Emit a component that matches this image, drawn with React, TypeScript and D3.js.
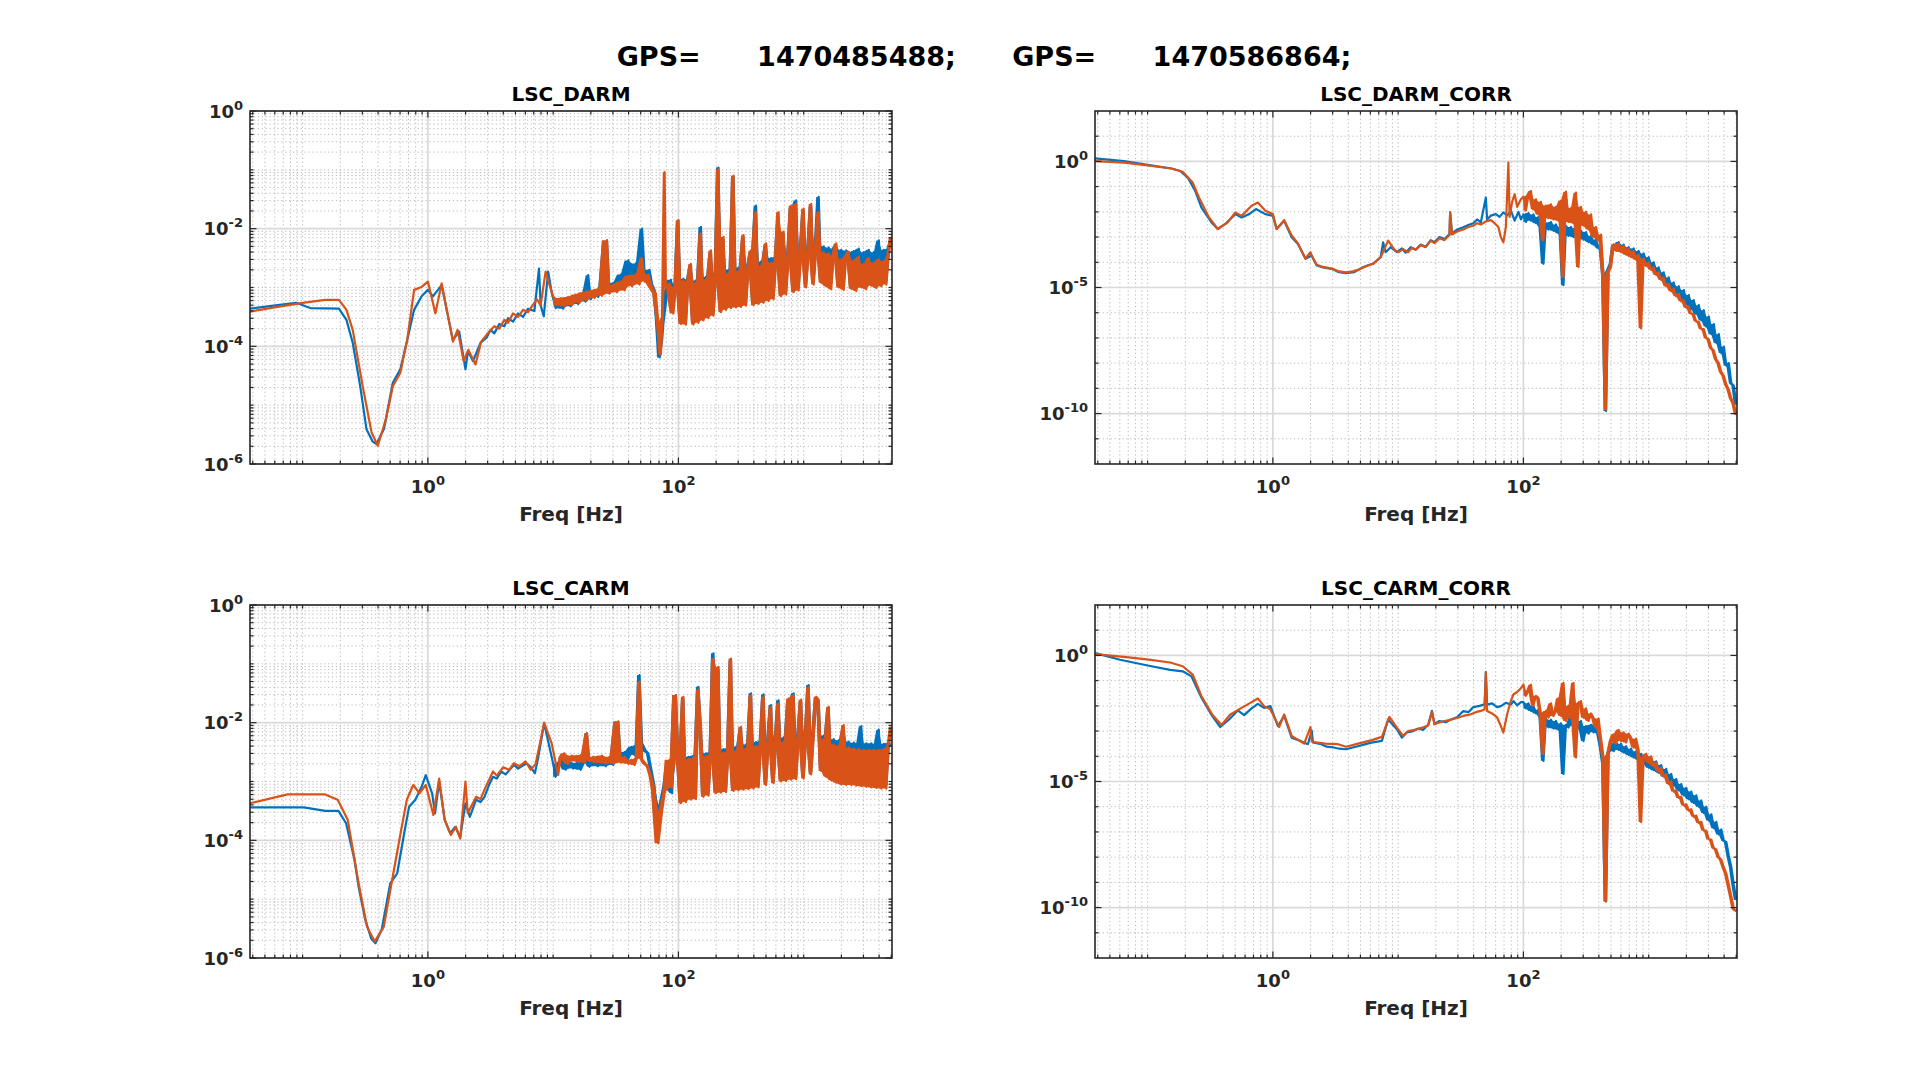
import React, { useEffect, useRef } from 'react';
import * as d3 from 'd3';

// ---------------- text ----------------
const supTitle = 'GPS=      1470485488;      GPS=      1470586864;';
const panelTitles = ['LSC_DARM', 'LSC_DARM_CORR', 'LSC_CARM', 'LSC_CARM_CORR'];
const xLabelText = 'Freq [Hz]';

// ---------------- axes (log10 exponents) ----------------
const xLogDomain = [-1.42, 3.705];
const yLogDomainPlain = [-6, 0];
const yLogDomainCorr = [-12, 2];
const xTickExps = [0, 2];
const yTickExpsPlain = [-6, -4, -2, 0];
const yTickExpsCorr = [-10, -5, 0];

// ---------------- data: [log10 f, log10 value] ----------------
type P = [number, number];

const darmBlueLow: P[] = [[-1.42,-3.36],[-1.2,-3.3],[-1.05,-3.26],[-0.94,-3.35],[-0.71,-3.36],[-0.65,-3.55],[-0.6,-3.94],[-0.54,-4.68],[-0.49,-5.41],[-0.44,-5.62],[-0.41,-5.66],[-0.35,-5.4],[-0.28,-4.62],[-0.22,-4.39],[-0.17,-3.94],[-0.11,-3.38],[-0.05,-3.15],[0,-3.04],[0.04,-3.15],[0.11,-2.96],[0.15,-3.38],[0.2,-3.89],[0.25,-3.75],[0.3,-4.39],[0.32,-4.08],[0.36,-4.25],[0.42,-3.94],[0.47,-3.85],[0.5,-3.72],[0.53,-3.78],[0.57,-3.62],[0.61,-3.66],[0.64,-3.52],[0.68,-3.58],[0.72,-3.44],[0.76,-3.5],[0.8,-3.36],[0.85,-3.4],[0.887,-2.68],[0.9,-3.3],[0.925,-3.49],[0.96,-2.73],[0.99,-3.1],[1.02,-3.35],[1.05,-3.22],[1.08,-3.36],[1.11,-3.2],[1.14,-3.32],[1.17,-3.16],[1.2,-3.28],[1.23,-3.12],[1.26,-3.24],[1.28,-2.79],[1.3,-3.2],[1.33,-3.06],[1.36,-3.16],[1.39,-3.0],[1.43,-2.2],[1.45,-3.1],[1.48,-2.92],[1.51,-3.02],[1.54,-2.78],[1.57,-2.95],[1.6,-2.54],[1.63,-2.8],[1.66,-2.59],[1.69,-2.85],[1.71,-2.0],[1.73,-2.75],[1.77,-2.7],[1.79,-2.95],[1.81,-3.04],[1.83,-3.5],[1.85,-4.19],[1.87,-3.9],[1.88,-3.61],[1.91,-3.1],[1.94,-2.87],[1.96,-3.3],[1.98,-2.95]];
const darmOrangeLow: P[] = [[-1.42,-3.41],[-1.2,-3.33],[-1.0,-3.26],[-0.82,-3.21],[-0.71,-3.21],[-0.65,-3.38],[-0.6,-3.72],[-0.52,-4.68],[-0.45,-5.46],[-0.4,-5.69],[-0.335,-5.24],[-0.28,-4.68],[-0.22,-4.45],[-0.165,-3.89],[-0.11,-3.04],[-0.05,-2.99],[0,-2.9],[0.06,-3.44],[0.11,-2.93],[0.154,-3.41],[0.2,-3.92],[0.237,-3.72],[0.286,-4.25],[0.323,-4.06],[0.38,-4.31],[0.425,-3.92],[0.47,-3.8],[0.53,-3.66],[0.57,-3.7],[0.61,-3.55],[0.64,-3.6],[0.68,-3.44],[0.72,-3.5],[0.76,-3.38],[0.8,-3.42],[0.83,-3.32],[0.87,-3.2],[0.9,-3.3],[0.94,-2.73],[0.97,-2.95],[1.0,-3.15],[1.03,-3.3],[1.06,-3.18],[1.09,-3.32],[1.12,-3.16],[1.15,-3.3],[1.18,-3.12],[1.21,-3.26],[1.24,-3.08],[1.27,-3.22],[1.3,-3.05],[1.33,-3.18],[1.36,-3.02],[1.39,-3.14],[1.43,-2.2],[1.45,-3.1],[1.48,-2.95],[1.51,-3.08],[1.54,-2.9],[1.57,-3.05],[1.6,-2.8],[1.63,-2.98],[1.66,-2.78],[1.69,-2.95],[1.71,-2.5],[1.73,-2.9],[1.76,-2.78],[1.79,-3.0],[1.82,-3.1],[1.84,-3.6],[1.86,-4.14],[1.875,-3.5],[1.89,-1.04],[1.9,-3.0],[1.93,-2.93],[1.96,-3.44],[1.98,-3.0]];

const carmBlueLow: P[] = [[-1.42,-3.44],[-0.99,-3.44],[-0.82,-3.5],[-0.714,-3.5],[-0.653,-3.71],[-0.586,-4.33],[-0.553,-4.79],[-0.5,-5.35],[-0.452,-5.67],[-0.419,-5.75],[-0.369,-5.52],[-0.3,-4.73],[-0.245,-4.56],[-0.184,-3.82],[-0.15,-3.43],[-0.1,-3.31],[-0.05,-3.09],[-0.017,-2.89],[0.034,-3.2],[0.057,-3.54],[0.09,-3.0],[0.134,-3.65],[0.178,-3.88],[0.218,-3.77],[0.258,-3.95],[0.3,-3.37],[0.335,-3.6],[0.385,-3.31],[0.42,-3.35],[0.452,-3.26],[0.49,-3.05],[0.52,-2.92],[0.55,-2.95],[0.586,-2.83],[0.62,-2.88],[0.687,-2.72],[0.72,-2.78],[0.787,-2.69],[0.82,-2.75],[0.854,-2.86],[0.88,-2.6],[0.905,-2.29],[0.928,-2.01],[0.97,-2.41],[1.0,-2.7],[1.02,-2.92],[1.05,-2.7],[1.07,-2.63],[1.1,-2.8],[1.13,-2.65],[1.16,-2.78],[1.19,-2.68],[1.22,-2.8],[1.25,-2.66],[1.27,-2.18],[1.29,-2.75],[1.32,-2.64],[1.357,-2.74],[1.39,-2.62],[1.42,-2.74],[1.45,-2.6],[1.48,-2.72],[1.52,-1.98],[1.54,-2.66],[1.57,-2.5],[1.6,-2.62],[1.625,-2.41],[1.65,-2.55],[1.67,-2.38],[1.69,-1.19],[1.71,-2.35],[1.74,-2.48],[1.76,-2.52],[1.78,-2.75],[1.81,-3.09],[1.84,-3.88],[1.87,-3.4],[1.89,-3.09],[1.93,-2.75],[1.95,-3.2],[1.98,-1.53]];
const carmOrangeLow: P[] = [[-1.42,-3.37],[-1.12,-3.22],[-0.82,-3.22],[-0.72,-3.31],[-0.64,-3.65],[-0.553,-4.73],[-0.486,-5.47],[-0.425,-5.72],[-0.352,-5.47],[-0.285,-4.67],[-0.218,-3.88],[-0.168,-3.31],[-0.117,-3.06],[-0.067,-3.2],[-0.017,-3.06],[0.044,-3.57],[0.09,-2.95],[0.134,-3.65],[0.184,-3.91],[0.224,-3.77],[0.258,-3.97],[0.3,-3.0],[0.318,-3.54],[0.385,-3.26],[0.42,-3.3],[0.46,-3.1],[0.52,-2.83],[0.55,-2.9],[0.6,-2.76],[0.65,-2.8],[0.687,-2.69],[0.73,-2.74],[0.78,-2.66],[0.82,-2.8],[0.86,-2.7],[0.9,-2.3],[0.928,-2.0],[0.988,-2.35],[1.04,-2.89],[1.06,-2.6],[1.09,-2.52],[1.12,-2.7],[1.15,-2.56],[1.19,-2.66],[1.22,-2.55],[1.25,-2.68],[1.27,-2.18],[1.29,-2.65],[1.32,-2.58],[1.357,-2.68],[1.39,-2.56],[1.42,-2.7],[1.45,-2.58],[1.48,-2.7],[1.52,-1.98],[1.54,-2.68],[1.57,-2.58],[1.6,-2.7],[1.625,-2.63],[1.65,-2.72],[1.67,-2.6],[1.69,-1.3],[1.71,-2.62],[1.74,-2.7],[1.76,-2.75],[1.78,-2.9],[1.81,-3.14],[1.84,-4.05],[1.87,-3.5],[1.89,-3.2],[1.93,-2.63],[1.95,-3.1],[1.98,-1.53]];

const darmCorrBlueLow: P[] = [[-1.42,0.12],[-1.19,0.01],[-1.0,-0.14],[-0.81,-0.28],[-0.74,-0.38],[-0.68,-0.64],[-0.62,-1.17],[-0.57,-1.83],[-0.49,-2.42],[-0.44,-2.68],[-0.38,-2.48],[-0.3,-2.09],[-0.25,-2.22],[-0.19,-2.09],[-0.135,-1.89],[-0.06,-2.09],[0,-2.16],[0.03,-2.68],[0.09,-2.35],[0.15,-3.01],[0.2,-3.27],[0.26,-3.86],[0.31,-3.73],[0.35,-4.13],[0.4,-4.2],[0.47,-4.26],[0.52,-4.38],[0.58,-4.43],[0.65,-4.39],[0.71,-4.22],[0.76,-4.12],[0.8,-4.06],[0.86,-3.8],[0.88,-3.21],[0.9,-3.6],[0.94,-3.4],[0.99,-3.6],[1.03,-3.45],[1.06,-3.62],[1.1,-3.4],[1.14,-3.5],[1.18,-3.3],[1.22,-3.38],[1.26,-3.12],[1.29,-3.2],[1.33,-3.0],[1.37,-3.08],[1.41,-2.88],[1.415,-2.02],[1.43,-2.85],[1.47,-2.7],[1.52,-2.61],[1.56,-2.52],[1.6,-2.45],[1.63,-2.3],[1.66,-2.42],[1.7,-1.43],[1.71,-2.3],[1.74,-2.15],[1.78,-2.09],[1.81,-2.2],[1.84,-2.02],[1.87,-2.15],[1.9,-1.95],[1.93,-2.35],[1.96,-2.0],[1.98,-2.3]];
const darmCorrOrangeLow: P[] = [[-1.42,0.01],[-1.19,-0.05],[-1.0,-0.16],[-0.81,-0.28],[-0.72,-0.41],[-0.64,-0.84],[-0.59,-1.43],[-0.51,-2.22],[-0.44,-2.68],[-0.36,-2.42],[-0.3,-2.02],[-0.25,-2.16],[-0.17,-1.76],[-0.12,-1.63],[-0.06,-1.96],[0,-2.09],[0.03,-2.68],[0.09,-2.33],[0.15,-2.94],[0.2,-3.25],[0.26,-3.85],[0.3,-3.6],[0.31,-3.75],[0.35,-4.1],[0.39,-4.17],[0.47,-4.25],[0.52,-4.35],[0.58,-4.4],[0.64,-4.36],[0.69,-4.28],[0.75,-4.15],[0.8,-4.06],[0.86,-3.8],[0.92,-3.14],[0.97,-3.5],[1.0,-3.6],[1.04,-3.48],[1.08,-3.6],[1.11,-3.42],[1.14,-3.5],[1.18,-3.32],[1.22,-3.4],[1.26,-3.15],[1.29,-3.24],[1.33,-3.05],[1.37,-3.12],[1.41,-2.92],[1.415,-2.02],[1.43,-2.9],[1.47,-2.78],[1.52,-2.7],[1.56,-2.6],[1.6,-2.55],[1.63,-2.45],[1.66,-2.5],[1.7,-2.38],[1.74,-2.33],[1.77,-2.45],[1.8,-2.6],[1.82,-3.01],[1.84,-3.21],[1.86,-2.6],[1.88,-0.05],[1.89,-2.2],[1.91,-1.6],[1.93,-1.3],[1.95,-1.8],[1.98,-1.5]];

const carmCorrBlueLow: P[] = [[-1.42,0.09],[-1.22,-0.17],[-0.99,-0.41],[-0.82,-0.57],[-0.72,-0.63],[-0.65,-0.83],[-0.57,-1.68],[-0.485,-2.4],[-0.42,-2.84],[-0.35,-2.54],[-0.28,-2.18],[-0.23,-2.37],[-0.17,-2.1],[-0.12,-1.92],[-0.07,-2.08],[-0.02,-2.01],[0.04,-2.8],[0.09,-2.4],[0.15,-3.26],[0.22,-3.39],[0.28,-3.52],[0.31,-2.98],[0.32,-3.45],[0.385,-3.52],[0.43,-3.62],[0.485,-3.65],[0.53,-3.7],[0.585,-3.72],[0.63,-3.66],[0.686,-3.59],[0.74,-3.52],[0.786,-3.46],[0.87,-3.39],[0.92,-2.54],[0.99,-2.93],[1.03,-3.26],[1.07,-3.05],[1.12,-3.0],[1.16,-2.9],[1.2,-2.95],[1.24,-2.75],[1.27,-2.2],[1.29,-2.72],[1.33,-2.6],[1.38,-2.65],[1.42,-2.54],[1.47,-2.45],[1.52,-2.21],[1.56,-2.25],[1.6,-2.05],[1.65,-2.0],[1.69,-1.94],[1.7,-0.66],[1.71,-1.95],[1.75,-1.9],[1.79,-2.05],[1.82,-2.01],[1.86,-1.88],[1.9,-1.95],[1.92,-1.81],[1.95,-1.98],[1.98,-1.85]];
const carmCorrOrangeLow: P[] = [[-1.42,0.05],[-1.15,-0.08],[-0.99,-0.17],[-0.82,-0.28],[-0.72,-0.43],[-0.64,-0.76],[-0.57,-1.62],[-0.485,-2.34],[-0.41,-2.76],[-0.34,-2.34],[-0.25,-2.08],[-0.18,-1.88],[-0.12,-1.71],[-0.07,-2.01],[-0.02,-2.14],[0.05,-2.84],[0.09,-2.34],[0.15,-3.19],[0.25,-3.5],[0.3,-2.84],[0.31,-3.4],[0.335,-3.45],[0.42,-3.5],[0.52,-3.52],[0.585,-3.62],[0.68,-3.5],[0.79,-3.36],[0.87,-3.23],[0.93,-2.44],[0.99,-2.86],[1.04,-3.19],[1.08,-3.0],[1.15,-2.93],[1.2,-2.85],[1.24,-2.78],[1.27,-2.25],[1.29,-2.73],[1.35,-2.62],[1.42,-2.55],[1.47,-2.48],[1.52,-2.4],[1.57,-2.35],[1.62,-2.25],[1.66,-2.2],[1.69,-2.14],[1.7,-0.7],[1.71,-2.2],[1.75,-2.3],[1.79,-2.46],[1.82,-2.8],[1.84,-3.06],[1.87,-2.33],[1.9,-1.8],[1.92,-1.55],[1.95,-1.45],[1.98,-1.3]];

// high-frequency part: shared log10 frequency grid and log10 values per trace
const hfLogFreq = [2.00,2.02,2.04,2.06,2.08,2.10,2.12,2.14,2.16,2.18,2.20,2.22,2.24,2.26,2.28,2.30,2.32,2.34,2.36,2.38,2.40,2.42,2.44,2.46,2.48,2.50,2.52,2.54,2.56,2.58,2.60,2.62,2.64,2.66,2.68,2.70,2.72,2.74,2.76,2.78,2.80,2.82,2.84,2.86,2.88,2.90,2.92,2.94,2.96,2.98,3.00,3.02,3.04,3.06,3.08,3.10,3.12,3.14,3.16,3.18,3.20,3.22,3.24,3.26,3.28,3.30,3.32,3.34,3.36,3.38,3.40,3.42,3.44,3.46,3.48,3.50,3.52,3.54,3.56,3.58,3.60,3.62,3.64,3.66,3.68,3.70];

const darmOrangeHf = [
  -1.86,-3.62,-2.88,-3.63,-2.90,-2.60,-3.63,-2.92,-3.60,-2.08,
  -3.56,-2.86,-3.52,-2.37,-3.48,-2.83,-0.99,-3.42,-2.14,-3.38,
  -2.76,-3.35,-1.10,-3.34,-2.72,-3.33,-2.11,-3.31,-2.68,-2.37,
  -3.30,-1.72,-3.28,-2.63,-3.26,-2.25,-3.23,-2.58,-3.20,-2.56,
  -1.72,-3.15,-2.05,-3.12,-2.50,-1.61,-3.08,-1.58,-3.05,-2.44,
  -1.66,-3.00,-2.40,-1.58,-2.95,-2.37,-1.72,-2.92,-2.40,-2.98,
  -2.42,-3.03,-2.46,-2.25,-3.00,-2.52,-3.04,-2.47,-2.39,-3.02,
  -2.54,-3.06,-2.48,-3.00,-2.60,-3.03,-2.50,-2.97,-2.58,-3.01,
  -2.52,-2.98,-2.55,-2.95,-2.45,-2.14];
const darmBlueHf = [
  -1.86,-3.58,-2.85,-3.60,-2.86,-2.62,-3.58,-2.88,-3.55,-1.97,
  -3.52,-2.82,-3.48,-2.40,-3.44,-2.78,-0.96,-3.38,-2.18,-3.34,
  -2.70,-3.31,-1.12,-3.30,-2.66,-3.28,-2.15,-3.26,-2.62,-2.40,
  -3.25,-1.61,-3.23,-2.56,-3.20,-2.28,-3.18,-2.50,-3.15,-2.48,
  -1.85,-3.10,-2.10,-3.06,-2.42,-1.65,-3.02,-1.52,-2.98,-2.36,
  -1.70,-2.94,-2.32,-1.62,-2.88,-2.28,-1.46,-2.86,-2.30,-2.92,
  -2.32,-2.94,-2.34,-2.28,-2.95,-2.36,-2.96,-2.37,-2.42,-2.97,
  -2.38,-3.00,-2.34,-2.94,-2.40,-2.97,-2.36,-2.92,-2.40,-2.95,
  -2.20,-2.92,-2.36,-2.90,-2.34,-2.20];

const carmOrangeHf = [
  -2.63,-3.37,-1.56,-3.35,-2.62,-3.31,-2.60,-3.30,-1.44,-2.07,
  -3.26,-2.57,-3.24,-2.55,-0.91,-3.20,-1.05,-3.19,-2.51,-3.18,
  -2.49,-0.91,-3.16,-2.48,-3.15,-2.07,-3.14,-2.44,-3.13,-1.53,
  -3.12,-2.40,-3.10,-2.39,-1.56,-3.06,-2.37,-1.73,-3.03,-2.36,
  -1.67,-3.00,-2.33,-2.99,-1.59,-2.97,-1.53,-2.96,-2.29,-1.61,
  -2.95,-2.28,-1.40,-2.88,-2.25,-1.56,-1.61,-2.82,-2.28,-2.92,
  -1.73,-2.98,-2.37,-3.02,-2.39,-3.05,-2.04,-3.06,-2.42,-3.06,
  -2.44,-3.07,-2.45,-3.08,-2.46,-3.09,-2.46,-3.10,-2.46,-3.11,
  -2.46,-3.12,-2.45,-3.12,-2.40,-2.07];
const carmBlueHf = [
  -2.60,-3.34,-1.60,-3.32,-2.58,-3.28,-2.56,-3.27,-1.39,-2.10,
  -3.22,-2.52,-3.20,-2.50,-0.82,-3.16,-1.10,-3.15,-2.45,-3.14,
  -2.43,-0.95,-3.12,-2.41,-3.11,-2.10,-3.10,-2.37,-3.09,-1.50,
  -3.08,-2.33,-3.06,-2.31,-1.52,-3.02,-2.29,-1.70,-2.99,-2.28,
  -1.62,-2.96,-2.25,-2.95,-1.62,-2.93,-1.50,-2.92,-2.22,-1.64,
  -2.91,-2.20,-1.36,-2.84,-2.18,-1.60,-1.65,-2.78,-2.22,-2.88,
  -1.76,-2.93,-2.28,-2.97,-2.30,-3.00,-2.10,-3.01,-2.32,-3.01,
  -2.34,-3.02,-2.34,-2.06,-3.03,-2.35,-3.04,-2.35,-3.05,-2.36,
  -2.12,-3.06,-2.36,-3.06,-2.34,-2.40];

const darmCorrOrangeHf = [
  -1.40,-1.95,-1.35,-1.17,-1.90,-1.50,-2.10,-1.60,-3.14,-1.75,
  -2.25,-1.70,-2.30,-1.80,-2.35,-1.55,-4.59,-1.20,-2.40,-1.85,
  -2.45,-1.24,-4.19,-1.80,-2.55,-2.00,-2.70,-2.10,-3.00,-2.60,
  -3.14,-2.90,-4.59,-9.84,-4.40,-4.19,-3.30,-3.55,-3.25,-3.60,
  -3.35,-3.70,-3.45,-3.80,-3.55,-3.90,-3.70,-6.62,-3.85,-4.15,
  -4.00,-4.30,-4.20,-4.50,-4.40,-4.70,-4.60,-4.95,-4.85,-5.15,
  -5.05,-5.35,-5.25,-5.55,-5.50,-5.80,-5.75,-6.05,-6.05,-6.35,
  -6.35,-6.65,-6.65,-7.00,-7.05,-7.40,-7.50,-7.85,-8.00,-8.35,
  -8.50,-8.85,-9.05,-9.40,-9.60,-10.05];
const darmCorrBlueHf = [
  -2.10,-2.40,-2.05,-2.35,-2.10,-2.45,-2.20,-2.60,-4.06,-2.45,
  -2.70,-2.40,-2.75,-2.50,-2.85,-2.60,-4.91,-2.55,-2.95,-2.60,
  -3.00,-2.65,-3.05,-2.75,-3.10,-2.80,-3.20,-2.95,-3.30,-3.10,
  -3.45,-3.40,-4.50,-9.90,-4.30,-4.06,-3.30,-3.50,-3.20,-3.55,
  -3.30,-3.65,-3.40,-3.70,-3.45,-3.80,-3.55,-3.90,-3.65,-4.00,
  -3.80,-4.20,-4.00,-4.40,-4.20,-4.65,-4.40,-4.90,-4.60,-5.10,
  -4.80,-5.30,-4.95,-5.50,-5.10,-5.65,-5.30,-5.85,-5.50,-6.05,
  -5.70,-6.30,-5.90,-6.55,-6.15,-6.85,-6.45,-7.20,-6.85,-7.60,
  -7.35,-8.10,-8.00,-8.80,-8.90,-9.65];

const carmCorrOrangeHf = [
  -1.16,-1.60,-1.42,-1.16,-2.00,-1.60,-1.68,-2.30,-3.92,-2.20,
  -2.47,-1.90,-2.40,-2.21,-1.70,-2.40,-1.09,-2.60,-2.00,-2.50,
  -1.09,-4.05,-1.90,-1.81,-2.47,-2.10,-2.60,-2.30,-2.47,-2.86,
  -2.50,-3.30,-4.05,-9.76,-3.92,-3.40,-3.13,-3.50,-2.95,-3.39,
  -3.05,-3.45,-3.10,-3.26,-3.65,-3.30,-3.75,-6.61,-4.05,-3.90,
  -4.25,-4.00,-4.40,-4.25,-4.60,-4.45,-4.80,-4.70,-5.10,-5.00,
  -5.40,-5.35,-5.65,-5.60,-5.95,-5.90,-6.15,-6.10,-6.40,-6.35,
  -6.65,-6.60,-6.95,-6.95,-7.30,-7.30,-7.65,-7.70,-8.00,-8.10,
  -8.40,-8.65,-9.10,-9.55,-10.05,-10.15];
const carmCorrBlueHf = [
  -1.85,-2.10,-1.90,-2.20,-2.00,-2.30,-2.15,-2.45,-4.18,-2.50,
  -2.85,-2.55,-2.90,-2.60,-2.95,-2.70,-4.70,-2.75,-2.86,-2.45,
  -2.80,-2.47,-2.90,-2.60,-3.39,-2.80,-3.10,-2.75,-3.05,-2.73,
  -3.10,-3.60,-4.31,-9.76,-3.92,-3.50,-3.80,-3.45,-3.75,-3.50,
  -3.85,-3.60,-3.95,-3.70,-4.05,-3.80,-4.15,-3.90,-4.30,-4.00,
  -4.45,-4.10,-4.55,-4.20,-4.65,-4.35,-4.80,-4.50,-4.95,-4.70,
  -5.15,-4.90,-5.35,-5.10,-5.55,-5.25,-5.70,-5.40,-5.85,-5.55,
  -6.00,-5.75,-6.25,-6.00,-6.55,-6.30,-6.85,-6.60,-7.10,-6.90,
  -7.35,-7.40,-7.95,-8.40,-9.10,-9.70];

// ---------------- style ----------------
const BLUE = '#0072BD';
const ORANGE = '#D95319';
const AXIS = '#262626';
const FONT = '"DejaVu Sans", "Liberation Sans", sans-serif';

const PW = 642;
const PH = 353;

function joinSeries(low: P[], hf: number[]): P[] {
  const hi: P[] = [];
  const n = Math.min(hf.length, hfLogFreq.length);
  for (let i = 0; i < n; i++) hi.push([hfLogFreq[i], hf[i]]);
  return low.concat(hi);
}

// noisy part of each trace (filled between successive samples) starts at this log10 frequency
const panels = [
  { title: panelTitles[0], left: 250, top: 111, corr: false, noisyFrom: 1.0, blue: joinSeries(darmBlueLow, darmBlueHf), orange: joinSeries(darmOrangeLow, darmOrangeHf) },
  { title: panelTitles[1], left: 1095, top: 111, corr: true, noisyFrom: 2.0, blue: joinSeries(darmCorrBlueLow, darmCorrBlueHf), orange: joinSeries(darmCorrOrangeLow, darmCorrOrangeHf) },
  { title: panelTitles[2], left: 250, top: 605, corr: false, noisyFrom: 1.0, blue: joinSeries(carmBlueLow, carmBlueHf), orange: joinSeries(carmOrangeLow, carmOrangeHf) },
  { title: panelTitles[3], left: 1095, top: 605, corr: true, noisyFrom: 2.0, blue: joinSeries(carmCorrBlueLow, carmCorrBlueHf), orange: joinSeries(carmCorrOrangeLow, carmCorrOrangeHf) },
];

export default function App() {
  const ref = useRef<SVGSVGElement>(null);

  useEffect(() => {
    document.body.style.margin = '0';
    const svg = d3.select(ref.current);
    svg.selectAll('*').remove();

    svg.append('rect').attr('width', 1920).attr('height', 1074).attr('fill', '#ffffff');

    svg.append('text')
      .attr('x', 984).attr('y', 66)
      .attr('text-anchor', 'middle')
      .style('white-space', 'pre')
      .attr('font-family', FONT).attr('font-weight', 'bold').attr('font-size', 27)
      .attr('fill', '#000')
      .text(supTitle);

    panels.forEach((p, pi) => {
      const g = svg.append('g').attr('transform', `translate(${p.left},${p.top})`);
      const yDom = p.corr ? yLogDomainCorr : yLogDomainPlain;
      const x = d3.scaleLog().domain([10 ** xLogDomain[0], 10 ** xLogDomain[1]]).range([0, PW]);
      const y = d3.scaleLog().domain([10 ** yDom[0], 10 ** yDom[1]]).range([PH, 0]);

      // tick positions
      const xMajor = xTickExps.map(e => 10 ** e);
      const xMinor: number[] = [];
      for (let d = -2; d <= 3; d++) {
        for (let k = 1; k <= 9; k++) {
          const lv = Math.log10(k) + d;
          if (lv <= xLogDomain[0] + 0.002 || lv >= xLogDomain[1] - 0.002) continue;
          if (k === 1 && xTickExps.includes(d)) continue;
          xMinor.push(k * 10 ** d);
        }
      }
      const yExps = p.corr ? yTickExpsCorr : yTickExpsPlain;
      const yMajor = yExps.map(e => 10 ** e);
      const yMinor: number[] = [];
      for (let d = yDom[0]; d < yDom[1]; d++) {
        const ks = p.corr ? [1] : [1, 2, 3, 4, 5, 6, 7, 8, 9];
        for (const k of ks) {
          if (k === 1 && (yExps.includes(d) || d === yDom[0])) continue;
          yMinor.push(k * 10 ** d);
        }
      }

      // minor grid
      const gridG = g.append('g');
      gridG.selectAll('line.xm').data(xMinor).enter().append('line')
        .attr('x1', d => x(d)).attr('x2', d => x(d)).attr('y1', 0).attr('y2', PH)
        .attr('stroke', '#bdbdbd').attr('stroke-width', 1).attr('stroke-dasharray', '1.3,2.6');
      gridG.selectAll('line.ym').data(yMinor).enter().append('line')
        .attr('y1', d => y(d)).attr('y2', d => y(d)).attr('x1', 0).attr('x2', PW)
        .attr('stroke', '#bdbdbd').attr('stroke-width', 1).attr('stroke-dasharray', '1.3,2.6');
      // major grid
      gridG.selectAll('line.xM').data(xMajor).enter().append('line')
        .attr('x1', d => x(d)).attr('x2', d => x(d)).attr('y1', 0).attr('y2', PH)
        .attr('stroke', '#d9d9d9').attr('stroke-width', 1.7);
      gridG.selectAll('line.yM').data(yMajor).enter().append('line')
        .attr('y1', d => y(d)).attr('y2', d => y(d)).attr('x1', 0).attr('x2', PW)
        .attr('stroke', '#d9d9d9').attr('stroke-width', 1.7);

      // data
      const clipId = `clip${pi}`;
      g.append('clipPath').attr('id', clipId).append('rect').attr('x', 0).attr('y', 0).attr('width', PW).attr('height', PH);
      const line = d3.line<P>().x(d => x(10 ** d[0])).y(d => y(10 ** d[1]));
      type B = [number, number, number];
      const band = d3.area<B>().x(d => x(10 ** d[0])).y0(d => y(10 ** d[1])).y1(d => y(10 ** d[2]));
      const dataG = g.append('g').attr('clip-path', `url(#${clipId})`);
      const drawTrace = (series: P[], color: string) => {
        const idx = series.findIndex(d => d[0] >= p.noisyFrom);
        const noisy = series.slice(idx);
        const spans: B[] = noisy.map((d, i) => {
          const nx = noisy[Math.min(i + 1, noisy.length - 1)][1];
          return [d[0], Math.min(d[1], nx), Math.max(d[1], nx)];
        });
        dataG.append('path').datum(spans).attr('d', band).attr('fill', color).attr('stroke', 'none');
        dataG.append('path').datum(series).attr('d', line)
          .attr('fill', 'none').attr('stroke', color).attr('stroke-width', 2.2).attr('stroke-linejoin', 'round');
      };
      drawTrace(p.blue, BLUE);
      drawTrace(p.orange, ORANGE);

      // box
      g.append('rect').attr('x', 0).attr('y', 0).attr('width', PW).attr('height', PH)
        .attr('fill', 'none').attr('stroke', AXIS).attr('stroke-width', 1.6);

      // ticks
      const tickG = g.append('g').attr('stroke', AXIS).attr('stroke-width', 1.2);
      const addX = (vals: number[], L: number) => {
        vals.forEach(v => {
          const xx = x(v);
          tickG.append('line').attr('x1', xx).attr('x2', xx).attr('y1', PH).attr('y2', PH - L);
          tickG.append('line').attr('x1', xx).attr('x2', xx).attr('y1', 0).attr('y2', L);
        });
      };
      const addY = (vals: number[], L: number) => {
        vals.forEach(v => {
          const yy = y(v);
          tickG.append('line').attr('y1', yy).attr('y2', yy).attr('x1', 0).attr('x2', L);
          tickG.append('line').attr('y1', yy).attr('y2', yy).attr('x1', PW).attr('x2', PW - L);
        });
      };
      addX(xMinor, 3.5);
      addX(xMajor, 6.5);
      addY(yMinor, 3.5);
      addY(yMajor, 6.5);

      // tick labels
      xTickExps.forEach(e => {
        const t = g.append('text')
          .attr('x', x(10 ** e)).attr('y', PH + 29)
          .attr('text-anchor', 'middle')
          .attr('font-family', FONT).attr('font-weight', 'bold').attr('font-size', 18).attr('fill', AXIS);
        t.append('tspan').text('10');
        t.append('tspan').attr('dy', -8).attr('font-size', 13).text(String(e));
      });
      yExps.forEach(e => {
        const t = g.append('text')
          .attr('x', -7).attr('y', y(10 ** e) + 6.5)
          .attr('text-anchor', 'end')
          .attr('font-family', FONT).attr('font-weight', 'bold').attr('font-size', 18).attr('fill', AXIS);
        t.append('tspan').text('10');
        t.append('tspan').attr('dy', -8).attr('font-size', 13).text(String(e));
      });

      // title and x label
      g.append('text').attr('x', PW / 2).attr('y', -10).attr('text-anchor', 'middle')
        .attr('font-family', FONT).attr('font-weight', 'bold').attr('font-size', 20).attr('fill', '#000')
        .text(p.title);
      g.append('text').attr('x', PW / 2).attr('y', PH + 57).attr('text-anchor', 'middle')
        .attr('font-family', FONT).attr('font-weight', 'bold').attr('font-size', 20).attr('fill', AXIS)
        .text(xLabelText);
    });
  }, []);

  return <svg ref={ref} width={1920} height={1074} style={{ display: 'block' }} />;
}
